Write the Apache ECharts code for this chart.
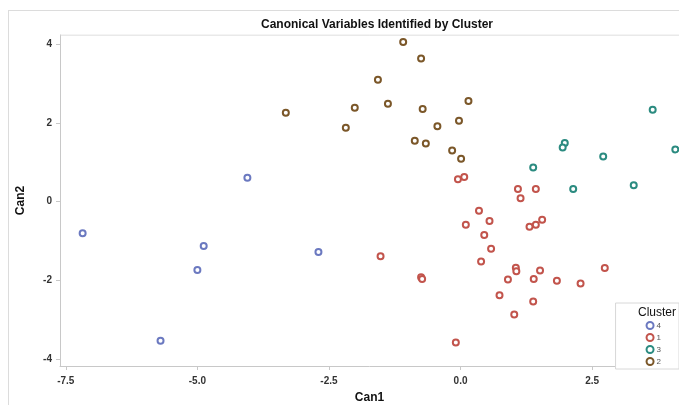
<!DOCTYPE html>
<html>
<head>
<meta charset="utf-8">
<script src="https://cdn.jsdelivr.net/npm/echarts@6/dist/echarts.min.js"></script>
<style>
html,body{margin:0;padding:0;background:#fff;}
#frame{position:absolute;left:8px;top:10px;width:700px;height:420px;border-left:1px solid #dcdcdc;border-top:1px solid #dcdcdc;}
#chart{position:absolute;left:0;top:0;width:679px;height:405px;}
</style>
</head>
<body>
<div id="frame"></div>
<div id="chart"></div>
<script>
// Cluster 4 (blue)
const c4x = [-4.05, -7.18, -4.88, -5.00, -5.70, -2.70];
const c4y = [0.61, -0.80, -1.13, -1.74, -3.54, -1.28];
// Cluster 1 (red)
const c1x = [-0.05, 0.07, 1.09, 1.43, 1.14, 0.35, 0.10, 0.55, 1.31, 1.43, 1.55, 0.45, 0.58, -1.52, 0.39, 1.05, 1.06, 1.51, 2.74, -0.75, -0.73, 0.90, 1.39, 1.83, 2.28, 0.74, 1.38, 1.02, -0.09];
const c1y = [0.57, 0.63, 0.32, 0.32, 0.09, -0.23, -0.59, -0.49, -0.64, -0.59, -0.46, -0.85, -1.20, -1.39, -1.52, -1.68, -1.77, -1.75, -1.69, -1.92, -1.97, -1.98, -1.97, -2.01, -2.08, -2.38, -2.54, -2.87, -3.58];
// Cluster 3 (teal)
const c3x = [3.65, 1.98, 1.94, 2.71, 4.08, 1.38, 2.14, 3.29];
const c3y = [2.34, 1.49, 1.38, 1.15, 1.33, 0.87, 0.32, 0.42];
// Cluster 2 (brown)
const c2x = [-3.32, -2.18, -2.01, -1.09, -0.75, -1.57, -1.38, -0.72, 0.15, -0.03, -0.44, -0.87, -0.66, -0.16, 0.01];
const c2y = [2.26, 1.88, 2.39, 4.06, 3.64, 3.10, 2.49, 2.36, 2.56, 2.06, 1.92, 1.55, 1.48, 1.30, 1.09];

const xTicks = [-7.5, -5.0, -2.5, 0.0, 2.5];
const yTicks = [-4, -2, 0, 2, 4];
const clusterNames = ['4', '1', '3', '2'];

const colors = {'4': '#6b79c0', '1': '#c2544c', '3': '#2b8b80', '2': '#7b5729'};
const FONT = '"Liberation Sans Narrow", "Liberation Sans", Arial, sans-serif';

function zip(xs, ys) { return xs.map((x, i) => [x, ys[i]]); }
const dataMap = {'4': zip(c4x, c4y), '1': zip(c1x, c1y), '3': zip(c3x, c3y), '2': zip(c2x, c2y)};

const chart = echarts.init(document.getElementById('chart'));
chart.setOption({
  animation: false,
  title: {
    text: 'Canonical Variables Identified by Cluster',
    left: 372, top: 14, textAlign: 'center',
    textStyle: {fontFamily: FONT, fontWeight: 'bold', fontSize: 12, color: '#111'}
  },
  legend: {
    orient: 'vertical',
    right: 0, bottom: 36,
    data: clusterNames,
    icon: 'circle',
    itemWidth: 7, itemHeight: 7, itemGap: 3,
    padding: [18, 18, 3, 30],
    borderColor: '#d8d8d8', borderWidth: 1,
    backgroundColor: '#fff',
    textStyle: {fontFamily: FONT, fontSize: 8, color: '#555', padding: [0,0,0,-2]}
  },
  graphic: [{
    type: 'text', right: 3, bottom: 86, z: 100,
    style: {text: 'Cluster', fontFamily: FONT, fontSize: 12, fill: '#111'}
  }],
  grid: {left: 60, right: 0, top: 35, bottom: 39, containLabel: false, outerBoundsMode: 'none'},
  xAxis: {
    type: 'value', min: -7.61, max: 4.15,
    name: 'Can1', nameLocation: 'middle', nameGap: 26,
    nameTextStyle: {fontFamily: FONT, fontWeight: 'bold', fontSize: 12, color: '#111'},
    axisLine: {show: true, onZero: false, lineStyle: {color: '#c8c8c8', width: 1}},
    axisTick: {show: true, customValues: xTicks, length: 4, lineStyle: {color: '#c8c8c8'}},
    axisLabel: {customValues: xTicks, formatter: v => v.toFixed(1), fontFamily: FONT, fontWeight: 'bold', fontSize: 10, color: '#333', margin: 10},
    splitLine: {show: false}
  },
  yAxis: {
    type: 'value', min: -4.18, max: 4.24,
    name: 'Can2', nameLocation: 'middle', nameGap: 33, nameRotate: 90,
    nameTextStyle: {fontFamily: FONT, fontWeight: 'bold', fontSize: 12, color: '#111'},
    axisLine: {show: true, onZero: false, lineStyle: {color: '#c8c8c8', width: 1}},
    axisTick: {show: true, customValues: yTicks, length: 4, lineStyle: {color: '#c8c8c8'}},
    axisLabel: {customValues: yTicks, fontFamily: FONT, fontWeight: 'bold', fontSize: 10, color: '#333', margin: 8},
    splitLine: {show: false}
  },
  series: clusterNames.map(n => ({
    name: n, type: 'scatter', data: dataMap[n],
    symbol: 'circle', symbolSize: 6,
    itemStyle: {color: '#fff', borderColor: colors[n], borderWidth: 2, opacity: 1},
    emphasis: {disabled: true}
  })).concat([{
    type: 'line', data: [[-7.61, 4.24], [4.15, 4.24]], symbol: 'none',
    lineStyle: {color: '#d4d4d4', width: 1}, silent: true, legendHoverLink: false
  }])
});
</script>
</body>
</html>
